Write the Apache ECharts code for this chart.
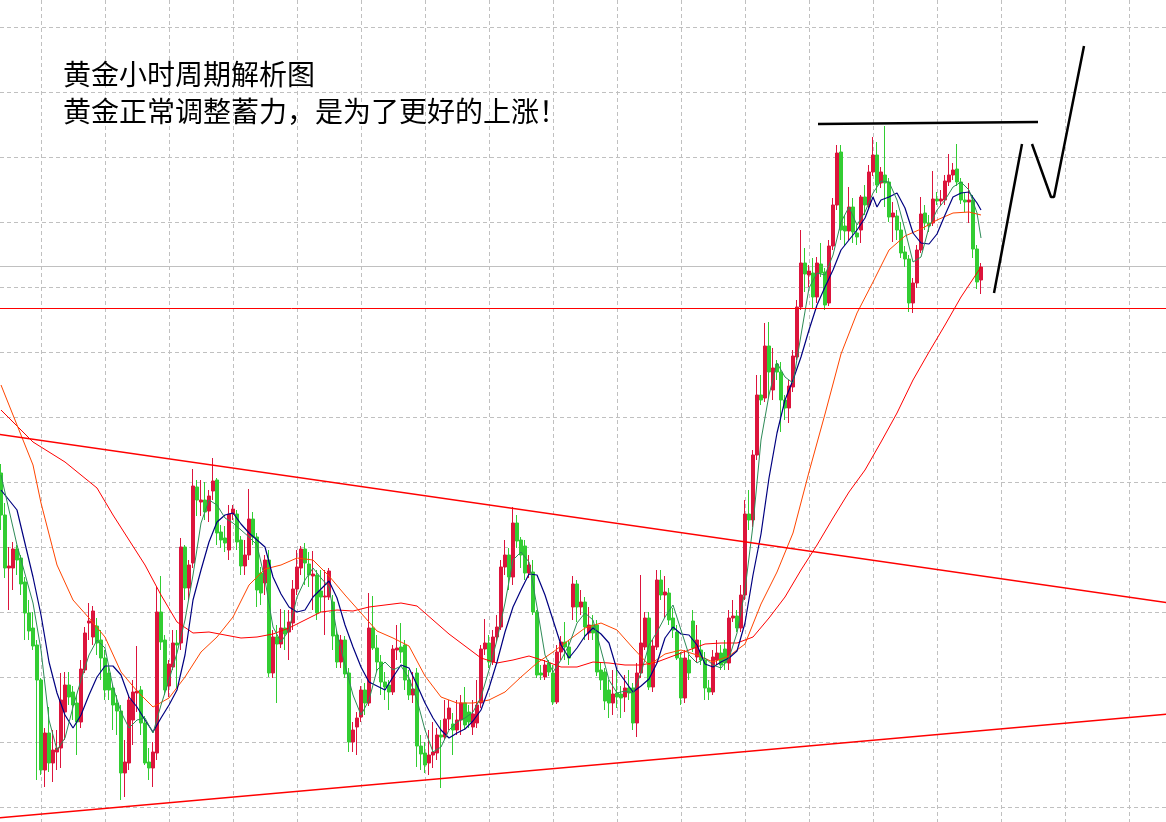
<!DOCTYPE html>
<html>
<head>
<meta charset="utf-8">
<title>黄金小时周期解析图</title>
<script src="https://cdn.jsdelivr.net/npm/echarts/dist/echarts.min.js"></script>
<style>
html, body { margin: 0; padding: 0; background: #fff; }
#chart { width: 1166px; height: 822px; }
</style>
</head>
<body>
<div id="chart"></div>
<script>
// hourly bars: [open, close, low, high]
var ohlc = [
  [1952.7,1948.5,1947.0,1953.6],[1948.5,1943.2,1942.2,1949.7],[1943.2,1943.4,1939.0,1945.3],[1943.2,1945.1,1941.0,1945.8],
  [1945.1,1944.0,1942.5,1945.5],[1944.2,1941.6,1940.5,1944.5],[1941.8,1938.7,1936.0,1942.3],[1938.7,1936.9,1936.0,1940.0],
  [1937.2,1935.4,1935.0,1938.8],[1935.5,1932.0,1922.0,1936.0],[1932.0,1923.0,1922.5,1932.2],[1923.0,1926.7,1921.3,1927.2],
  [1926.7,1923.7,1922.8,1929.3],[1923.7,1925.0,1921.8,1927.0],[1924.8,1925.2,1923.0,1927.0],[1925.2,1930.0,1923.2,1932.7],
  [1928.8,1931.5,1926.0,1932.8],[1931.5,1930.3,1929.5,1932.8],[1930.8,1929.5,1928.0,1931.4],[1929.7,1927.8,1924.5,1930.5],
  [1927.8,1933.1,1927.2,1934.0],[1933.0,1936.7,1932.7,1937.3],[1937.7,1937.9,1936.0,1939.7],[1936.3,1938.9,1935.5,1939.4],
  [1937.4,1935.7,1934.5,1938.2],[1936.0,1934.2,1932.0,1937.0],[1934.2,1931.0,1930.0,1935.0],[1932.7,1931.0,1930.0,1933.5],
  [1931.2,1929.5,1927.0,1931.5],[1929.7,1928.9,1926.5,1930.5],[1928.9,1922.7,1920.0,1929.5],[1922.7,1923.8,1920.3,1926.0],
  [1923.7,1930.0,1923.0,1930.4],[1928.0,1930.8,1925.5,1932.0],[1930.7,1930.9,1928.8,1935.4],[1931.0,1927.7,1926.5,1931.4],
  [1927.7,1923.7,1923.5,1928.4],[1923.8,1923.2,1922.0,1925.2],[1923.2,1924.8,1921.3,1925.8],[1924.7,1938.8,1924.0,1941.3],
  [1938.8,1935.8,1935.0,1942.4],[1936.0,1931.0,1930.5,1936.5],[1931.4,1933.6,1930.3,1934.0],[1933.3,1935.7,1933.0,1937.0],
  [1935.7,1935.5,1931.2,1937.0],[1935.7,1945.3,1935.0,1946.2],[1945.3,1941.2,1940.0,1945.5],[1941.2,1943.5,1940.0,1944.0],
  [1943.7,1951.4,1943.2,1953.1],[1951.3,1950.0,1948.4,1952.0],[1949.8,1950.0,1948.4,1952.0],[1950.0,1948.8,1948.0,1951.8],
  [1948.9,1950.4,1947.8,1951.0],[1950.9,1951.9,1950.0,1954.2],[1952.0,1946.7,1945.5,1952.2],[1946.8,1946.0,1945.2,1947.5],
  [1946.2,1945.7,1944.8,1947.4],[1945.0,1948.6,1944.0,1949.5],[1948.6,1949.1,1948.0,1949.5],[1948.6,1945.8,1945.0,1949.0],
  [1946.0,1943.4,1942.5,1946.4],[1943.4,1944.5,1942.5,1946.0],[1944.5,1948.1,1944.0,1951.1],[1948.1,1946.3,1945.5,1948.8],
  [1946.3,1941.0,1939.3,1946.7],[1942.7,1940.7,1939.5,1943.3],[1941.7,1944.0,1940.5,1944.5],[1944.0,1932.7,1932.3,1945.0],
  [1932.7,1936.3,1932.2,1937.0],[1936.3,1935.6,1929.7,1937.5],[1935.6,1937.2,1935.2,1939.1],[1937.2,1936.6,1935.0,1939.0],
  [1936.8,1937.8,1934.0,1939.0],[1937.7,1941.1,1937.0,1942.0],[1941.1,1943.3,1940.5,1945.0],[1943.2,1945.1,1942.5,1945.4],
  [1945.1,1943.7,1941.5,1945.7],[1943.6,1942.5,1941.3,1944.8],[1942.4,1942.6,1939.0,1944.9],[1942.5,1938.7,1938.0,1943.0],
  [1940.9,1940.3,1938.8,1943.0],[1940.3,1940.4,1936.5,1943.0],[1940.3,1942.9,1940.0,1943.2],[1939.8,1936.4,1935.0,1940.5],
  [1936.5,1933.8,1933.2,1937.0],[1933.8,1936.0,1933.2,1936.5],[1936.0,1932.6,1932.2,1936.4],[1932.7,1925.8,1924.8,1933.2],
  [1925.8,1927.0,1924.8,1927.8],[1927.3,1928.2,1924.5,1928.8],[1928.3,1931.0,1927.8,1931.4],[1931.0,1929.7,1928.5,1931.7],
  [1929.7,1937.2,1929.4,1940.7],[1937.2,1935.2,1935.0,1940.4],[1935.2,1933.8,1932.8,1936.5],[1933.8,1931.8,1930.5,1934.5],
  [1931.8,1931.3,1930.0,1932.8],[1931.5,1930.8,1929.0,1932.0],[1930.8,1935.1,1930.5,1935.5],[1935.0,1935.2,1934.0,1937.5],
  [1935.3,1934.8,1933.7,1937.7],[1935.5,1932.0,1931.0,1936.0],[1932.0,1930.5,1930.0,1933.0],[1930.5,1931.1,1929.7,1932.8],
  [1932.7,1925.4,1923.3,1933.2],[1925.4,1924.6,1923.0,1926.5],[1924.7,1923.5,1922.7,1925.8],[1923.7,1924.5,1922.5,1927.0],
  [1924.5,1924.8,1923.2,1927.8],[1924.7,1926.5,1924.0,1927.2],[1926.5,1926.3,1921.2,1928.0],[1926.3,1928.1,1926.0,1930.0],
  [1928.1,1929.2,1927.0,1930.0],[1927.6,1927.0,1924.5,1928.7],[1927.0,1928.0,1926.5,1930.0],[1928.0,1929.7,1926.5,1930.5],
  [1929.7,1927.5,1927.0,1931.3],[1928.8,1927.8,1927.2,1929.5],[1927.3,1928.6,1926.5,1930.0],[1927.7,1929.5,1927.2,1932.0],
  [1929.7,1935.1,1929.2,1935.5],[1935.1,1935.7,1934.5,1938.1],[1935.7,1933.8,1933.2,1936.5],[1933.8,1936.3,1933.5,1937.0],
  [1936.3,1937.3,1935.8,1938.5],[1937.3,1943.3,1937.0,1944.0],[1943.3,1944.5,1942.5,1946.0],[1944.5,1942.3,1941.0,1945.2],
  [1942.3,1947.7,1941.5,1949.3],[1947.7,1945.9,1945.2,1948.5],[1946.0,1944.5,1943.2,1946.3],[1945.4,1942.7,1942.0,1946.0],
  [1942.7,1943.5,1942.2,1944.5],[1942.8,1938.8,1938.5,1944.0],[1938.8,1932.5,1932.2,1939.0],[1932.7,1932.5,1932.0,1933.5],
  [1932.3,1933.5,1932.0,1934.0],[1933.7,1932.8,1932.4,1934.0],[1932.7,1929.8,1929.5,1933.5],[1929.8,1934.8,1929.6,1935.5],
  [1934.8,1935.8,1934.0,1936.4],[1935.8,1935.3,1934.0,1937.8],[1935.3,1934.2,1933.5,1936.0],[1939.3,1941.6,1938.0,1942.4],
  [1941.6,1939.3,1937.8,1942.0],[1939.3,1939.8,1938.5,1941.0],[1939.8,1937.3,1936.0,1940.3],[1936.7,1937.5,1936.0,1939.3],
  [1937.5,1936.7,1936.0,1938.5],[1937.5,1932.8,1932.4,1938.0],[1933.0,1932.0,1931.0,1933.8],[1932.8,1929.9,1929.0,1933.2],
  [1931.0,1929.7,1928.2,1932.0],[1929.7,1930.6,1928.5,1933.0],[1930.7,1930.3,1929.2,1933.2],[1930.6,1930.2,1928.2,1931.4],
  [1930.3,1931.2,1928.8,1932.5],[1931.2,1930.7,1930.0,1933.0],[1931.2,1927.7,1927.0,1931.7],[1927.7,1932.7,1926.3,1933.7],
  [1932.7,1935.7,1932.2,1942.5],[1935.3,1938.2,1935.0,1938.8],[1938.2,1931.3,1931.0,1938.8],[1931.3,1935.4,1930.8,1936.0],
  [1935.3,1942.0,1935.0,1943.0],[1942.0,1940.5,1940.0,1943.0],[1940.5,1940.8,1938.2,1942.4],[1940.7,1938.0,1937.5,1941.2],
  [1938.2,1937.0,1936.2,1939.2],[1936.8,1934.2,1934.0,1937.5],[1934.2,1930.2,1929.5,1934.8],[1930.2,1934.2,1929.7,1935.0],
  [1934.0,1932.7,1932.0,1934.5],[1937.9,1935.2,1934.8,1939.0],[1934.3,1936.0,1933.8,1937.5],[1935.0,1934.0,1933.5,1936.0],
  [1934.0,1931.2,1930.0,1934.8],[1931.2,1930.8,1930.0,1932.0],[1930.8,1934.3,1930.5,1935.0],[1934.0,1934.7,1933.5,1936.0],
  [1934.7,1933.5,1933.0,1935.5],[1935.1,1933.7,1933.0,1936.0],[1933.7,1938.2,1933.0,1939.0],[1938.2,1938.4,1937.8,1940.0],
  [1938.4,1937.2,1936.8,1939.0],[1937.2,1940.5,1936.8,1941.5],[1940.5,1948.6,1940.0,1950.0],[1948.6,1948.0,1947.0,1951.0],
  [1948.0,1954.5,1947.3,1955.0],[1954.5,1960.5,1954.0,1962.5],[1960.5,1960.0,1959.5,1962.5],[1960.2,1965.4,1959.8,1967.7],
  [1965.4,1962.8,1960.2,1967.8],[1961.0,1963.2,1960.0,1965.2],[1963.6,1962.8,1962.0,1964.0],[1962.8,1960.0,1956.8,1963.8],
  [1960.0,1959.2,1958.0,1960.5],[1959.2,1961.4,1957.7,1962.0],[1961.3,1964.4,1960.8,1965.0],[1964.3,1969.3,1964.0,1970.0],
  [1969.3,1973.7,1969.0,1977.0],[1973.7,1972.6,1970.8,1975.2],[1972.5,1972.9,1971.3,1973.5],[1972.7,1970.3,1969.2,1974.2],
  [1970.3,1973.7,1969.7,1974.3],[1973.6,1972.7,1972.3,1975.7],[1972.8,1969.5,1969.0,1973.2],[1969.7,1975.4,1969.4,1976.0],
  [1975.4,1979.5,1975.0,1980.2],[1979.5,1984.7,1979.0,1985.5],[1984.8,1977.0,1976.0,1985.5],[1977.4,1976.9,1975.4,1978.5],
  [1976.9,1979.3,1976.0,1981.3],[1979.3,1976.8,1975.7,1980.2],[1976.7,1976.3,1975.5,1977.5],[1977.0,1980.3,1975.7,1980.5],
  [1980.3,1979.5,1978.5,1981.5],[1979.5,1982.8,1979.2,1983.5],[1982.8,1984.5,1982.4,1986.3],[1984.5,1981.5,1980.7,1985.8],
  [1981.7,1982.8,1981.2,1983.3],[1982.5,1981.7,1979.3,1987.4],[1981.8,1978.3,1977.8,1982.2],[1978.3,1978.7,1975.8,1979.8],
  [1978.4,1977.0,1976.0,1979.0],[1977.0,1974.7,1974.2,1977.8],[1974.8,1974.1,1973.3,1975.4],[1974.1,1969.7,1968.8,1974.5],
  [1969.7,1971.7,1968.7,1972.2],[1971.7,1975.0,1971.2,1975.5],[1975.0,1978.6,1974.7,1980.3],[1978.7,1977.7,1977.0,1979.5],
  [1977.7,1977.4,1976.8,1978.5],[1977.7,1980.1,1977.4,1982.9],[1980.1,1979.9,1979.5,1980.8],[1979.9,1980.1,1979.4,1981.0],
  [1980.0,1981.9,1979.5,1982.5],[1981.8,1982.5,1981.4,1984.6],[1982.5,1983.0,1982.0,1983.7],[1983.1,1981.8,1981.4,1985.6],
  [1981.8,1980.0,1979.6,1982.2],[1980.0,1979.8,1978.8,1980.7],[1979.8,1980.0,1977.7,1981.7],[1980.0,1975.1,1974.2,1980.5],
  [1975.1,1971.8,1971.1,1975.5],[1972.0,1973.3,1970.6,1973.7]
];

// moving averages: [bar index, value]
var ma5 = [[0,1952.5],[4,1945.5],[8,1939.7],[10,1935.0],[12,1928.0],[14,1925.0],[16,1926.2],[18,1929.3],[20,1932.0],[22,1934.5],[24,1936.0],[26,1935.2],[28,1931.3],[30,1928.8],[32,1927.2],[34,1928.0],[36,1928.2],[38,1926.7],[40,1929.5],[42,1932.0],[44,1934.7],[46,1938.0],[48,1942.5],[50,1947.7],[52,1950.0],[54,1949.5],[56,1948.2],[58,1947.7],[60,1947.0],[62,1946.3],[64,1945.5],[66,1942.0],[68,1937.3],[70,1935.8],[72,1937.0],[74,1940.3],[76,1942.0],[78,1943.2],[80,1942.2],[82,1941.3],[84,1936.7],[86,1933.5],[88,1930.5],[90,1928.5],[92,1930.0],[94,1933.0],[96,1933.8],[98,1933.0],[100,1933.4],[102,1932.2],[104,1930.0],[106,1927.0],[108,1924.8],[110,1925.3],[112,1927.0],[114,1927.8],[116,1928.2],[118,1928.8],[120,1930.3],[122,1933.0],[124,1936.0],[126,1939.7],[128,1944.0],[130,1944.8],[132,1943.8],[134,1939.3],[136,1934.5],[138,1932.8],[140,1934.0],[142,1935.5],[144,1937.7],[146,1938.7],[148,1938.0],[150,1935.0],[152,1932.0],[154,1930.7],[156,1930.9],[158,1930.7],[160,1932.7],[162,1935.5],[164,1936.8],[166,1938.3],[168,1939.5],[170,1937.0],[172,1934.5],[174,1933.7],[176,1934.2],[178,1933.5],[180,1933.2],[182,1934.2],[184,1936.7],[186,1941.0],[188,1947.5],[190,1956.0],[192,1960.5],[194,1963.7],[196,1962.3],[198,1961.7],[200,1966.5],[202,1971.2],[204,1972.7],[206,1972.5],[208,1974.5],[210,1977.8],[212,1979.3],[214,1977.5],[216,1978.8],[218,1980.7],[220,1981.9],[222,1981.8],[224,1980.0],[226,1977.0],[228,1973.8],[230,1974.3],[232,1977.3],[234,1979.0],[236,1980.0],[238,1981.3],[240,1981.8],[242,1981.0],[244,1978.7],[245,1976.2]];
var ma10 = [[0,1951.0],[4,1949.0],[8,1942.3],[10,1938.5],[12,1933.8],[14,1930.7],[16,1928.5],[18,1927.2],[20,1928.5],[22,1930.5],[24,1932.3],[26,1933.4],[28,1933.4],[30,1932.5],[32,1930.3],[34,1929.3],[36,1928.0],[38,1926.8],[40,1928.2],[42,1929.5],[44,1931.0],[46,1934.5],[48,1940.0],[50,1943.0],[52,1945.8],[54,1947.8],[56,1948.5],[58,1948.7],[60,1947.6],[62,1946.7],[64,1946.0],[66,1945.3],[68,1942.3],[70,1940.6],[72,1939.3],[74,1938.8],[76,1939.0],[78,1940.3],[80,1941.1],[82,1941.9],[84,1940.2],[86,1937.5],[88,1935.3],[90,1933.3],[92,1931.8],[94,1931.4],[96,1931.0],[98,1932.3],[100,1933.5],[102,1933.2],[104,1931.5],[106,1929.7],[108,1928.2],[110,1927.0],[112,1926.2],[114,1926.7],[116,1927.1],[118,1927.9],[120,1929.0],[122,1931.2],[124,1933.8],[126,1936.8],[128,1939.3],[130,1941.0],[132,1942.6],[134,1942.5],[136,1940.5],[138,1938.0],[140,1935.5],[142,1934.2],[144,1935.2],[146,1936.4],[148,1937.2],[150,1936.6],[152,1935.7],[154,1933.0],[156,1931.9],[158,1930.8],[160,1931.4],[162,1932.1],[164,1933.7],[166,1936.2],[168,1937.3],[170,1936.6],[172,1936.5],[174,1935.5],[176,1933.6],[178,1933.3],[180,1933.8],[182,1934.2],[184,1934.9],[186,1937.7],[188,1942.5],[190,1946.6],[192,1952.2],[194,1956.7],[196,1960.0],[198,1962.0],[200,1964.3],[202,1967.0],[204,1969.5],[206,1971.3],[208,1973.0],[210,1975.0],[212,1976.0],[214,1977.0],[216,1978.2],[218,1980.3],[219,1979.3],[220,1980.0],[222,1980.3],[224,1980.7],[226,1979.2],[228,1976.7],[230,1975.7],[232,1975.6],[234,1976.6],[236,1978.5],[238,1980.3],[240,1980.7],[242,1980.8],[244,1979.7],[245,1979.0]];
var ma30 = [[0,1961.5],[4,1957.5],[8,1953.5],[10,1949.7],[14,1943.5],[18,1940.0],[22,1938.2],[26,1936.3],[30,1932.8],[34,1930.9],[38,1929.3],[42,1930.2],[46,1932.3],[50,1934.8],[54,1936.3],[58,1938.3],[62,1941.5],[66,1943.1],[70,1943.5],[74,1944.2],[78,1944.0],[82,1942.4],[86,1940.5],[90,1938.7],[94,1936.9],[98,1936.2],[102,1935.4],[106,1932.4],[110,1930.3],[114,1929.7],[118,1929.7],[122,1930.0],[126,1930.8],[130,1932.3],[134,1933.7],[138,1934.8],[142,1936.0],[146,1937.2],[150,1937.7],[154,1937.0],[158,1935.2],[162,1933.5],[166,1934.6],[170,1935.0],[174,1934.5],[178,1933.8],[182,1934.4],[186,1935.6],[190,1939.6],[194,1942.8],[198,1946.7],[202,1952.8],[206,1958.6],[210,1964.6],[214,1968.7],[218,1971.8],[222,1975.0],[226,1976.4],[230,1977.1],[234,1978.0],[238,1978.7],[242,1978.8],[245,1978.5]];
var ma60 = [[0,1959.0],[8,1955.8],[16,1953.8],[24,1951.2],[28,1948.5],[32,1946.0],[36,1943.5],[40,1940.5],[44,1937.8],[48,1936.7],[52,1936.8],[56,1936.5],[60,1936.2],[64,1936.3],[68,1936.6],[72,1937.2],[76,1938.0],[80,1938.8],[84,1939.0],[88,1938.9],[92,1939.3],[96,1939.5],[100,1939.7],[104,1939.4],[108,1938.0],[112,1936.6],[116,1935.4],[120,1934.2],[124,1933.7],[128,1934.0],[132,1934.4],[136,1933.9],[140,1933.3],[144,1933.3],[148,1933.8],[152,1933.7],[156,1933.5],[160,1933.5],[164,1933.8],[168,1934.4],[172,1935.0],[176,1935.6],[180,1935.7],[184,1935.7],[188,1936.3],[192,1938.2],[196,1940.3],[200,1943.0],[204,1945.5],[208,1948.2],[212,1950.8],[216,1953.0],[220,1955.8],[224,1958.7],[228,1962.0],[232,1964.8],[236,1967.5],[240,1970.3],[244,1972.7],[245,1973.3]];

// grid line positions (bar index / price), MT4-style fixed grid
var xGridTicks = [10, 26, 42, 58, 74, 90, 106, 122, 138, 154, 170, 186, 202, 218, 234, 250, 266, 282];
var yGridTicks = [1919.3, 1925.8, 1932.3, 1938.8, 1945.3, 1951.8, 1958.3, 1964.8, 1971.3, 1977.8, 1984.3, 1990.8, 1997.3];

// drawn objects
var upperTrend = [[-1,1956.6],[292,1939.7]];
var lowerTrend = [[-1,1918.2],[292,1928.6]];
var supportLevel = 1969.15;
var bidLevel = 1973.35;
var topLine = [[204.25,1987.6],[259.25,1987.8]];
var pathUp = [[248.25,1970.7],[255.25,1985.6]];
var pathNext = [[257.75,1985.6],[262.5,1980.3],[263.25,1980.3],[270.75,1995.4]];

var xSpan = [-0.25, 291.25];
var ySpan = [1917.8, 2000];
var bars = ohlc.map(function (d, i) { return [i, d[0], d[1], d[2], d[3]]; });

function lineSeries(data, color, width, z) {
  return {
    type: 'line',
    data: data,
    symbol: 'none',
    silent: true,
    z: z,
    lineStyle: { color: color, width: width }
  };
}

var gridLine = { lineStyle: { color: '#c0c0c0', width: 1, type: [4, 3] } };

var chart = echarts.init(document.getElementById('chart'));
var option = {
  animation: false,
  backgroundColor: '#ffffff',
  title: {
    text: '黄金小时周期解析图\n黄金正常调整蓄力，是为了更好的上涨！',
    left: 58,
    top: 51,
    textStyle: {
      fontFamily: "'Noto Sans CJK SC', sans-serif",
      fontSize: 28,
      fontWeight: 'normal',
      lineHeight: 37,
      color: '#000000'
    }
  },
  grid: { left: 0, top: 0, right: 0, bottom: 0 },
  xAxis: {
    type: 'value',
    min: xSpan[0],
    max: xSpan[1],
    axisLine: { show: false },
    axisTick: { show: false, customValues: xGridTicks },
    axisLabel: { show: false },
    splitLine: gridLine
  },
  yAxis: {
    type: 'value',
    min: ySpan[0],
    max: ySpan[1],
    axisLine: { show: false },
    axisTick: { show: false, customValues: yGridTicks },
    axisLabel: { show: false },
    splitLine: gridLine
  },
  series: [
    lineSeries([[xSpan[0], bidLevel], [xSpan[1], bidLevel]], '#c0c0c0', 1, 1),
    {
      type: 'candlestick',
      data: bars,
      barWidth: 3,
      silent: true,
      z: 2,
      itemStyle: {
        color: '#dc143c',
        color0: '#32cd32',
        borderColor: '#dc143c',
        borderColor0: '#32cd32',
        borderWidth: 1
      }
    },
    lineSeries(ma60, '#ff0000', 1, 3),
    lineSeries(ma30, '#ff4500', 1, 3),
    lineSeries(ma10, '#000080', 1.2, 3),
    lineSeries(ma5, '#2e8b57', 1, 3),
    lineSeries([[xSpan[0], supportLevel], [xSpan[1], supportLevel]], '#ff0000', 1, 4),
    lineSeries(upperTrend, '#ff0000', 1.5, 4),
    lineSeries(lowerTrend, '#ff0000', 1.5, 4),
    lineSeries(topLine, '#000000', 2.5, 5),
    lineSeries(pathUp, '#000000', 2.5, 5),
    lineSeries(pathNext, '#000000', 2.5, 5)
  ]
};
chart.setOption(option);
</script>
</body>
</html>
